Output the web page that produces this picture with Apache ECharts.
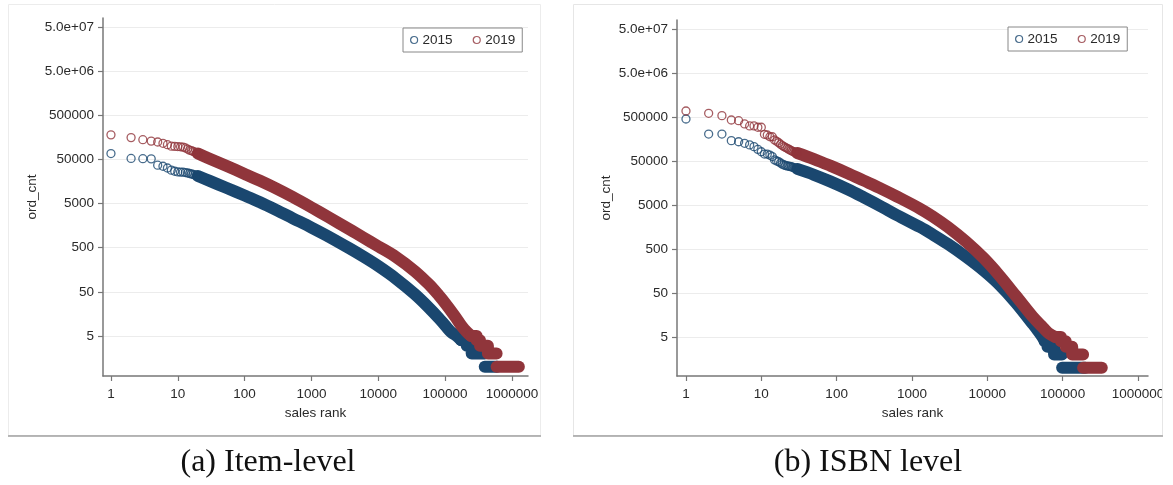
<!DOCTYPE html>
<html><head><meta charset="utf-8">
<script src="https://cdn.jsdelivr.net/npm/echarts@6/dist/echarts.min.js"></script>
<style>html,body{margin:0;padding:0;background:#fff}#c{width:1173px;height:485px}</style>
</head><body><div id="c"></div>
<script>
// ---------- data ----------
const yTicks = [5, 50, 500, 5000, 50000, 500000, 5000000, 50000000];
const yTickLabels = ['5', '50', '500', '5000', '50000', '500000', '5.0e+06', '5.0e+07'];
const xTicks = [1, 10, 100, 1000, 10000, 100000, 1000000];
const xTickLabels = ['1', '10', '100', '1000', '10000', '100000', '1000000'];
const legendNames = ['2015', '2019'];
const captions = ['(a) Item-level', '(b) ISBN level'];

// (a) Item-level: top ranks drawn as separate circles
const itemTopRanks = [1,2,3,4,5,6,7,8,9,10,11,12,13,14,15,16,17,18,19,20];
const itemTop2015 = [68000,52700,52000,51500,37000,35000,32000,28600,27000,26000,25800,25700,25200,24600,24000,23400,22800,22200,21600,21000];
const itemTop2019 = [180000,156000,140000,130000,124000,116000,108000,100000,98600,98000,96500,95000,91000,86000,81000,79000,76000,73000,70000,68000];
// dense part of the curves
const itemCurveRanks2015 = [20,30,53,100,167,300,526,1000,1657,3690,5834,10000,18400,35000,57700,80000,102000,125000,150000,175000];
const itemCurve2015 = [21000,16300,11400,7590,5410,3550,2320,1430,957,484,321,192,99.5,44.6,21.6,12.8,8.4,6,5,4];
const itemCurveRanks2019 = [20,30,53,100,167,300,526,1000,1800,3690,5834,10000,18400,35000,57700,80000,102000,140000,181000,215000,245000];
const itemCurve2019 = [68000,52100,35800,23500,16600,10900,7030,4100,2460,1310,865,537,309,148,73,42,26.7,14,8,6,5];
// integer steps at the low end
const itemStairRanks2015 = [175000,211000,211000,250000,250000,392000];
const itemStair2015 = [4,4,3,3,2,2];
const itemStairRanks2019 = [245000,297000,297000,333000,333000,437000,437000,590000];
const itemStair2019 = [5,5,4,4,3,3,2,2];
const itemTailRanks2015 = [392000, 600000];
const itemTail2015 = [1, 1];
const itemTailRanks2019 = [590000, 1270000];
const itemTail2019 = [1, 1];

// (b) ISBN level
const isbnTopRanks = [1,2,3,4,5,6,7,8,9,10,11,12,13,14,15,16,17,18,19,20,21,22,23,24,25,26,27,28,29,30];
const isbnTop2015 = [450000,205000,205000,145000,137000,126000,116000,106000,92000,81000,72000,72000,68000,63000,53000,50000,48000,45000,42500,40500,39500,38800,38000,37500,37000,36000,35000,34500,33800,33000];
const isbnTop2019 = [684000,607000,536000,427000,412000,347000,313000,313000,292000,292000,202000,195000,178000,178000,150000,140000,130000,120000,112000,106000,101000,97000,93000,89000,86000,83000,80000,78000,77000,76000];
const isbnCurveRanks2015 = [30,50,82,140,226,400,625,1280,1888,3000,5200,9000,14400,24000,40000,47000,54000,58000];
const isbnCurve2015 = [33000,24300,17200,11400,7550,4520,2960,1575,1067,647,334,161,78,30,10,7,5,4];
const isbnCurveRanks2019 = [30,50,82,140,226,400,625,1280,1888,3000,5200,9000,14400,24000,40000,55000,66000,80000];
const isbnCurve2019 = [76000,55400,39200,26400,18100,11500,7870,4130,2750,1580,738,307,126,43,14.5,8.2,6,5];
const isbnStairRanks2015 = [58000,63000,63000,77000,77000,98000];
const isbnStair2015 = [4,4,3,3,2,2];
const isbnStairRanks2019 = [80000,95000,95000,110000,110000,134000,134000,187000];
const isbnStair2019 = [5,5,4,4,3,3,2,2];
const isbnTailRanks2015 = [98500, 200000];
const isbnTail2015 = [1, 1];
const isbnTailRanks2019 = [187000, 331000];
const isbnTail2019 = [1, 1];

// ---------- styling ----------
const C15 = '#1a476f', C19 = '#90353b';
const FONT = 'Liberation Sans, Arial, sans-serif';
const TXT = '#2a2a2a';
const pairs = (xs, ys) => xs.map((x, i) => [x, ys[i]]);

function tickLabel(ticks, labels) {
  return function (v) {
    for (let i = 0; i < ticks.length; i++) {
      if (Math.abs(Math.log10(v) - Math.log10(ticks[i])) < 1e-6) return labels[i];
    }
    return '';
  };
}

const axisLineStyle = { lineStyle: { color: '#777', width: 1.5 } };

function xAxis(gi, max) {
  return {
    type: 'log', logBase: 10, gridIndex: gi, min: 0.76, max: max,
    name: 'sales rank', nameLocation: 'middle', nameGap: 23,
    nameTextStyle: { fontFamily: FONT, fontSize: 13.5, color: TXT },
    axisLine: axisLineStyle,
    axisTick: { show: true, length: 5, lineStyle: { color: '#777', width: 1.2 }, customValues: xTicks },
    axisLabel: { fontFamily: FONT, fontSize: 13.5, color: TXT, margin: 11, customValues: xTicks,
      formatter: tickLabel(xTicks, xTickLabels) },
    splitLine: { show: false }, minorTick: { show: false }
  };
}
function yAxis(gi, min) {
  return {
    type: 'log', logBase: 10, gridIndex: gi, min: min, max: 8.0e7,
    name: 'ord_cnt', nameLocation: 'middle', nameGap: 64,
    nameTextStyle: { fontFamily: FONT, fontSize: 13.5, color: TXT },
    axisLine: axisLineStyle,
    axisTick: { show: true, length: 5, lineStyle: { color: '#777', width: 1.2 }, customValues: yTicks },
    axisLabel: { fontFamily: FONT, fontSize: 13.5, color: TXT, margin: 9, customValues: yTicks,
      formatter: tickLabel(yTicks, yTickLabels) },
    splitLine: { show: true, lineStyle: { color: '#ececec', width: 1 } }, minorTick: { show: false }
  };
}

function scatter(name, gi, data, color) {
  return { type: 'scatter', name, xAxisIndex: gi, yAxisIndex: gi, data, symbol: 'circle', symbolSize: 8,
    itemStyle: { color: 'rgba(255,255,255,0)', borderColor: color, borderWidth: 1.3 },
    emphasis: { disabled: true }, silent: true, z: 3 };
}
function curve(name, gi, data, color, smooth) {
  return { type: 'line', name, xAxisIndex: gi, yAxisIndex: gi, data, showSymbol: false, symbol: 'none',
    smooth: smooth || false,
    lineStyle: { color, width: 12, cap: 'round', join: 'round' }, itemStyle: { color },
    emphasis: { disabled: true }, silent: true, z: 3 };
}
function legend(left, top) {
  return {
    left, top, orient: 'horizontal', itemWidth: 7, itemHeight: 7, itemGap: 20,
    padding: [5, 7, 5, 7], borderColor: '#888', borderWidth: 1, backgroundColor: '#fff',
    textStyle: { fontFamily: FONT, fontSize: 13.5, color: TXT }, selectedMode: false,
    data: [
      { name: legendNames[0], icon: 'circle', itemStyle: { color: 'rgba(255,255,255,0)', borderColor: C15, borderWidth: 1.2 } },
      { name: legendNames[1], icon: 'circle', itemStyle: { color: 'rgba(255,255,255,0)', borderColor: C19, borderWidth: 1.2 } }
    ]
  };
}

function panelSeries(gi, top, t15, t19, cr15, c15, cr19, c19, sr15, s15, sr19, s19, tr15, tl15, tr19, tl19) {
  return [
    scatter(legendNames[0], gi, pairs(top, t15), C15),
    curve(legendNames[0], gi, pairs(cr15, c15), C15, 0.35),
    curve(legendNames[0], gi, pairs(sr15, s15), C15),
    curve(legendNames[0], gi, pairs(tr15, tl15), C15),
    scatter(legendNames[1], gi, pairs(top, t19), C19),
    curve(legendNames[1], gi, pairs(cr19, c19), C19, 0.35),
    curve(legendNames[1], gi, pairs(sr19, s19), C19),
    curve(legendNames[1], gi, pairs(tr19, tl19), C19)
  ];
}

const chart = echarts.init(document.getElementById('c'), null, { renderer: 'canvas' });
chart.setOption({
  animation: false,
  backgroundColor: '#fff',
  grid: [
    { left: 103, right: 645, top: 18, bottom: 109, containLabel: false, outerBoundsMode: 'none' },
    { left: 677, right: 25, top: 20, bottom: 109, containLabel: false, outerBoundsMode: 'none' }
  ],
  xAxis: [xAxis(0, 1.74e6), xAxis(1, 1.36e6)],
  yAxis: [yAxis(0, 0.62), yAxis(1, 0.65)],
  legend: [legend(403, 28), legend(1008, 27)],
  tooltip: { show: false },
  series: [].concat(
    panelSeries(0, itemTopRanks, itemTop2015, itemTop2019, itemCurveRanks2015, itemCurve2015, itemCurveRanks2019, itemCurve2019,
      itemStairRanks2015, itemStair2015, itemStairRanks2019, itemStair2019, itemTailRanks2015, itemTail2015, itemTailRanks2019, itemTail2019),
    panelSeries(1, isbnTopRanks, isbnTop2015, isbnTop2019, isbnCurveRanks2015, isbnCurve2015, isbnCurveRanks2019, isbnCurve2019,
      isbnStairRanks2015, isbnStair2015, isbnStairRanks2019, isbnStair2019, isbnTailRanks2015, isbnTail2015, isbnTailRanks2019, isbnTail2019)
  ),
  graphic: [
    { type: 'rect', z: 100, silent: true, shape: { x: 1162, y: 0, width: 11, height: 440 }, style: { fill: '#fff' } },
    { type: 'rect', z: 101, silent: true, shape: { x: 8.5, y: 4.5, width: 532, height: 431 }, style: { fill: 'none', stroke: '#ececec', lineWidth: 1 } },
    { type: 'rect', z: 101, silent: true, shape: { x: 573.5, y: 4.5, width: 589, height: 431 }, style: { fill: 'none', stroke: '#e6e6e6', lineWidth: 1 } },
    { type: 'line', z: 102, silent: true, shape: { x1: 8, y1: 436, x2: 541, y2: 436 }, style: { stroke: '#a0a0a0', lineWidth: 1.5 } },
    { type: 'line', z: 102, silent: true, shape: { x1: 573, y1: 436, x2: 1163, y2: 436 }, style: { stroke: '#a0a0a0', lineWidth: 1.5 } },
    { type: 'text', z: 102, silent: true, style: { text: captions[0], x: 268, y: 463, textAlign: 'center', textVerticalAlign: 'middle', font: '32px "Liberation Serif", "Times New Roman", serif', fill: '#111' } },
    { type: 'text', z: 102, silent: true, style: { text: captions[1], x: 868, y: 463, textAlign: 'center', textVerticalAlign: 'middle', font: '32px "Liberation Serif", "Times New Roman", serif', fill: '#111' } }
  ]
});
</script>
</body></html>
